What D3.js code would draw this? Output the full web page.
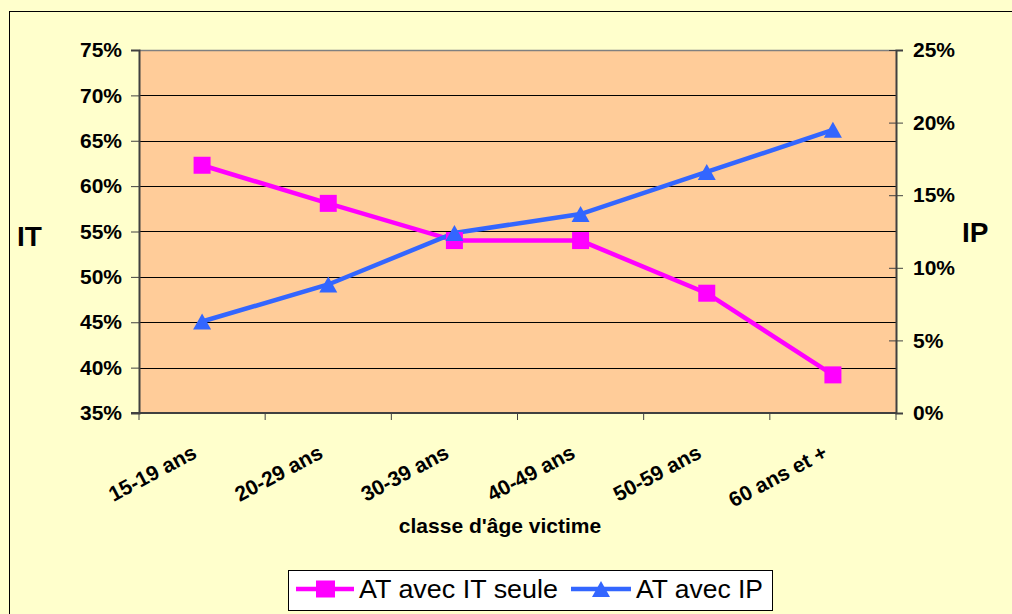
<!DOCTYPE html>
<html><head><meta charset="utf-8">
<script src="https://cdn.jsdelivr.net/npm/d3@7/dist/d3.min.js"></script>
<style>
html,body{margin:0;padding:0;background:#FFFFCC;}
svg{display:block;}
text{font-family:"Liberation Sans",Arial,Helvetica,sans-serif;}
</style></head>
<body>
<svg id="c" width="1012" height="614"></svg>
<script>
const categories = ["15-19 ans","20-29 ans","30-39 ans","40-49 ans","50-59 ans","60 ans et +"];
const itSeule = [0.623, 0.581, 0.540, 0.540, 0.482, 0.392];
const avecIP  = [0.063, 0.0885, 0.124, 0.137, 0.166, 0.195];
const leftTicks  = [0.35,0.40,0.45,0.50,0.55,0.60,0.65,0.70,0.75];
const rightTicks = [0,0.05,0.10,0.15,0.20,0.25];
const seriesNames = ["AT avec IT seule","AT avec IP"];
const colors = ["#FF00FF","#3366FF"];

const svg = d3.select("#c");
const L = 139, R = 896, T = 50, B = 413;

svg.append("rect").attr("x",0).attr("y",0).attr("width",1012).attr("height",614).attr("fill","#FFFFCC");
svg.append("rect").attr("x",9.5).attr("y",11.5).attr("width",1100).attr("height",700)
  .attr("fill","#FFFFCC").attr("stroke","#000").attr("stroke-width",1);

const x = d3.scaleBand().domain(categories).range([L,R]).padding(0);
const yL = d3.scaleLinear().domain([0.35,0.75]).range([B,T]);
const yR = d3.scaleLinear().domain([0,0.25]).range([B,T]);
const cx = d => x(d) + x.bandwidth()/2;

svg.append("rect").attr("x",L).attr("y",T).attr("width",R-L).attr("height",B-T).attr("fill","#FFCC99");

// gridlines
svg.append("g").selectAll("line").data(leftTicks.slice(1,-1)).join("line")
  .attr("x1",L).attr("x2",R).attr("y1",d=>Math.round(yL(d))+0.5).attr("y2",d=>Math.round(yL(d))+0.5)
  .attr("stroke","#000").attr("stroke-width",1);
// top border
svg.append("line").attr("x1",L).attr("x2",R).attr("y1",T+0.5).attr("y2",T+0.5).attr("stroke","#808080").attr("stroke-width",1.5);

const fmt = d3.format(".0%");
// left axis
const gL = svg.append("g").attr("transform",`translate(${L},0)`)
  .call(d3.axisLeft(yL).tickValues(leftTicks).tickFormat(fmt).tickSize(8).tickPadding(9));
gL.select(".domain").attr("stroke","#404040").attr("stroke-width",2);
gL.selectAll(".tick line").attr("stroke","#404040");
gL.selectAll("text").attr("font-size",21).attr("font-weight","bold").attr("fill","#000");

// right axis
const gR = svg.append("g").attr("transform",`translate(${R},0)`)
  .call(d3.axisRight(yR).tickValues(rightTicks).tickFormat(fmt).tickSize(7).tickPadding(10));
gR.select(".domain").attr("stroke","#404040").attr("stroke-width",2);
gR.selectAll(".tick line").attr("x1",-7).attr("x2",7).attr("stroke","#404040");
gR.selectAll("text").attr("x",17).attr("font-size",21).attr("font-weight","bold").attr("fill","#000");

// bottom axis
const gB = svg.append("g").attr("transform",`translate(0,${B})`);
gB.append("line").attr("x1",L-8).attr("x2",R).attr("y1",0).attr("y2",0).attr("stroke","#404040").attr("stroke-width",2);
const bounds = categories.map(c=>x(c)).concat([R]);
gB.selectAll("line.t").data(bounds).join("line").attr("class","t")
  .attr("x1",d=>d).attr("x2",d=>d).attr("y1",0).attr("y2",7).attr("stroke","#404040");
gB.selectAll("text").data(categories).join("text")
  .attr("transform",d=>`translate(${cx(d)-4},${457-B}) rotate(-28)`)
  .attr("text-anchor","end").attr("font-size",21).attr("font-weight","bold").text(d=>d);

// axis titles
svg.append("text").attr("x",17).attr("y",246).attr("font-size",28).attr("font-weight","bold").text("IT");
svg.append("text").attr("x",962).attr("y",242).attr("font-size",28).attr("font-weight","bold").text("IP");
svg.append("text").attr("x",500).attr("y",533).attr("text-anchor","middle").attr("font-size",21).attr("font-weight","bold").text("classe d'âge victime");

// series
const line1 = d3.line().x((d,i)=>cx(categories[i])).y(d=>yL(d));
const line2 = d3.line().x((d,i)=>cx(categories[i])).y(d=>yR(d));
svg.append("path").attr("d",line1(itSeule)).attr("fill","none").attr("stroke",colors[0]).attr("stroke-width",4.5);
svg.append("path").attr("d",line2(avecIP)).attr("fill","none").attr("stroke",colors[1]).attr("stroke-width",4.5);

const tri = (px,py)=>`M${px},${py-8}L${px+9},${py+8}L${px-9},${py+8}Z`;
svg.append("g").selectAll("rect").data(itSeule).join("rect")
  .attr("x",(d,i)=>cx(categories[i])-8.5).attr("y",d=>yL(d)-8.5).attr("width",17).attr("height",17).attr("fill",colors[0]);
svg.append("g").selectAll("path").data(avecIP).join("path")
  .attr("d",(d,i)=>tri(cx(categories[i]),yR(d))).attr("fill",colors[1]);

// legend
const lg = svg.append("g");
lg.append("rect").attr("x",288.5).attr("y",570.5).attr("width",484).attr("height",40).attr("fill","#fff").attr("stroke","#000");
lg.append("line").attr("x1",296).attr("x2",354).attr("y1",589).attr("y2",589).attr("stroke",colors[0]).attr("stroke-width",4.5);
lg.append("rect").attr("x",316).attr("y",580.5).attr("width",19).attr("height",17).attr("fill",colors[0]);
lg.append("text").attr("x",359).attr("y",598).attr("font-size",25.5)
  .attr("textLength",199).attr("lengthAdjust","spacingAndGlyphs").text(seriesNames[0]);
lg.append("line").attr("x1",571).attr("x2",631).attr("y1",589).attr("y2",589).attr("stroke",colors[1]).attr("stroke-width",4.5);
lg.append("path").attr("d",tri(601,589)).attr("fill",colors[1]);
lg.append("text").attr("x",636).attr("y",598).attr("font-size",25.5)
  .attr("textLength",127).attr("lengthAdjust","spacingAndGlyphs").text(seriesNames[1]);
</script>
</body></html>
